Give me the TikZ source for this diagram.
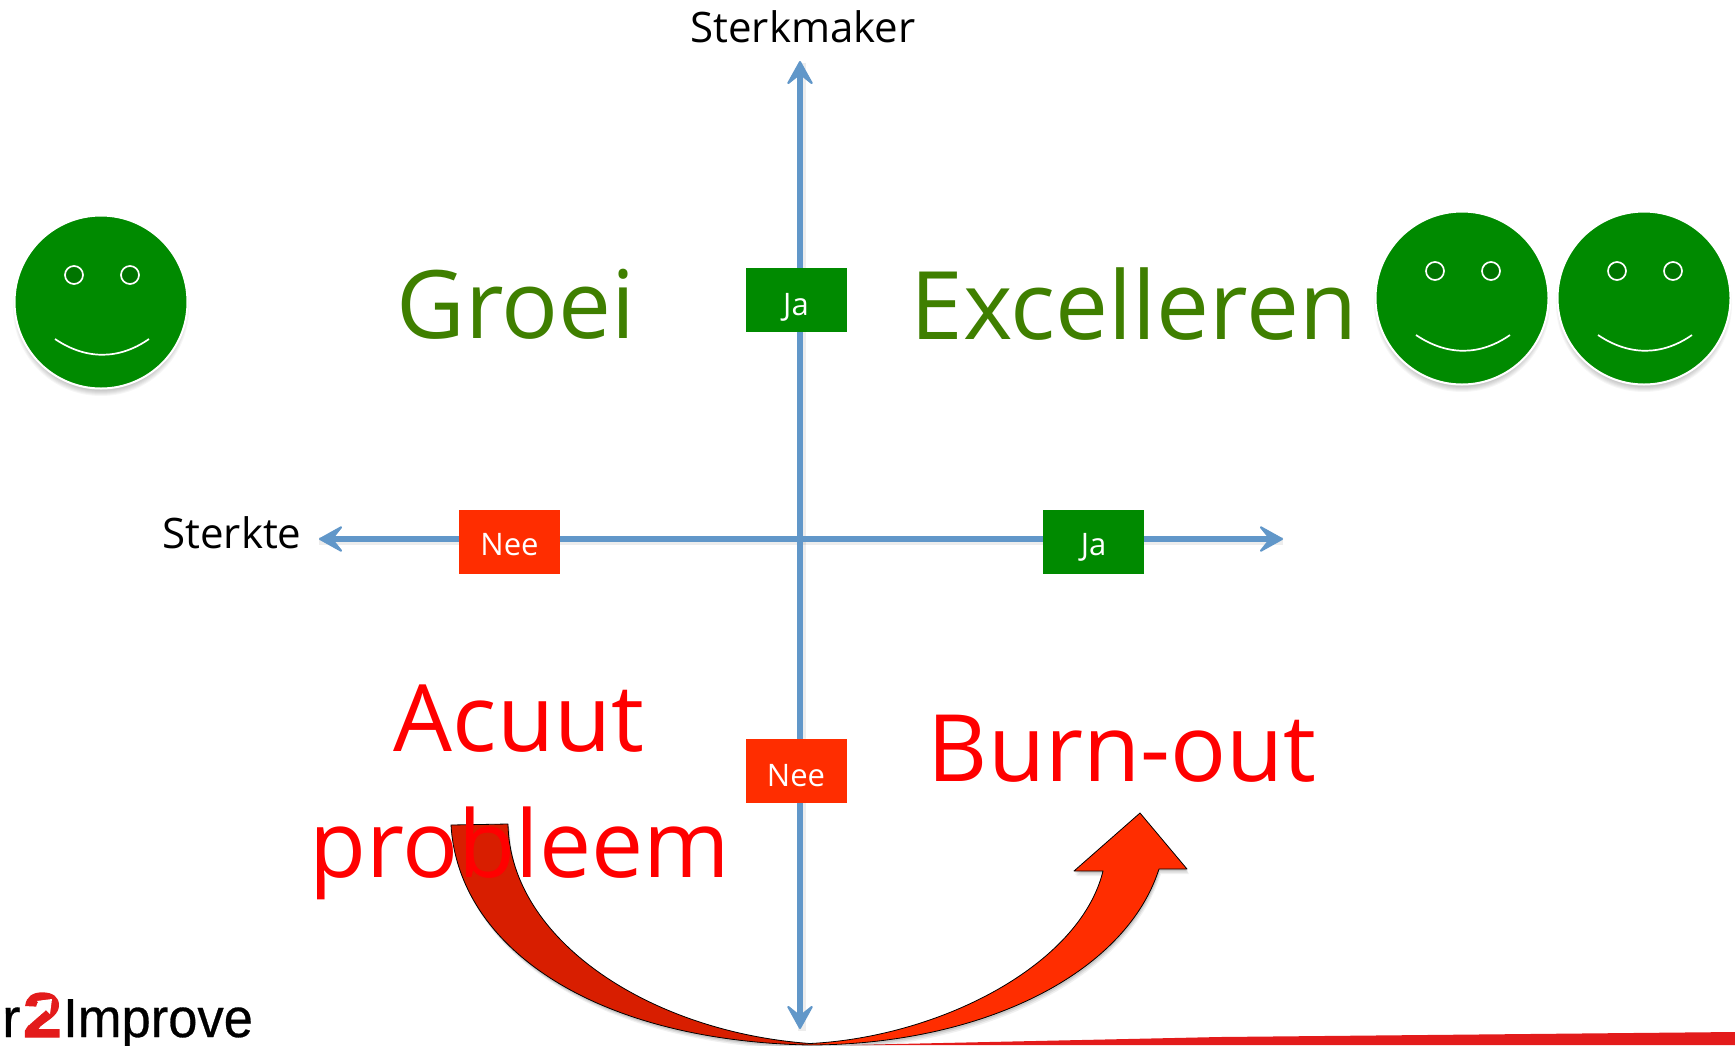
\documentclass[tikz,border=0pt]{standalone}
\usepackage{fontspec}
\usepackage{graphicx}
\setmainfont{Open Sans}
\newfontfamily\logofont[FakeBold=0.5]{Liberation Sans}
\newfontfamily\logotwofont[FakeBold=2.2]{Liberation Sans Bold}
\usetikzlibrary{arrows.meta}
\definecolor{axisblue}{HTML}{6197C9}
\definecolor{boxgreen}{HTML}{008A00}
\definecolor{boxred}{HTML}{FF2D00}
\definecolor{wordgreen}{HTML}{3F7F00}
\definecolor{arrowdark}{HTML}{D81E00}
\definecolor{logored}{HTML}{E31B1B}
\tikzset{
  axisline/.style={draw=axisblue,line width=6pt,{Stealth[length=27pt,width=30pt,inset=12pt,line width=2pt,round]}-{Stealth[length=27pt,width=30pt,inset=12pt,line width=2pt,round]}},
  axisshade/.style={draw=black,opacity=0.07,line width=7.5pt},
  tagbox/.style={minimum width=101pt,minimum height=64pt,inner sep=0pt,text=white,font=\fontsize{31}{31}\selectfont,text depth=0pt},
  jabox/.style={tagbox,fill=boxgreen},
  neebox/.style={tagbox,fill=boxred},
  tagvert/.style={text height=30.8pt},
  taghoriz/.style={text height=27.6pt},
  bigword/.style={inner sep=0pt,font=\fontsize{93}{93}\selectfont},
  greenword/.style={inner sep=0pt,text=wordgreen,font=\fontsize{94.5}{94.5}\selectfont},
  axisword/.style={inner sep=0pt,font=\fontsize{42}{42}\selectfont},
  face/.style={circle,fill=boxgreen,draw=white,line width=2pt,minimum size=173pt,inner sep=0pt},
}
\newcommand{\smiley}[3]{%
  \foreach \i in {1,...,6}{\fill[black,opacity=0.035] (#1,#2+6) circle ({82+\i});}
  \node[face] (#3) at (#1,#2) {};
  \draw[white,line width=1.7pt,fill=boxgreen!85!black] (#1-27,#2-27) circle (9);
  \draw[white,line width=1.7pt,fill=boxgreen!85!black] (#1+29,#2-27) circle (9);
  \draw[white,line width=1.7pt] (#1-46,#2+37) .. controls (#1-15,#2+58) and (#1+18,#2+58) .. (#1+48,#2+37);
}
\begin{document}
\begin{tikzpicture}[x=1pt,y=-1pt]
\useasboundingbox (0,0) rectangle (1735,1045);
\clip (0,0) rectangle (1735,1045);
\fill[white] (0,0) rectangle (1735,1045);
% red base line
\fill[logored] (850,1045) -- (1220,1037) -- (1735,1032) -- (1735,1045) -- cycle;
% axes
\coordinate (top) at (800,61);
\coordinate (bottom) at (800,1029);
\coordinate (left) at (319,539);
\coordinate (right) at (1283,539);
\draw[axisshade] ([shift={(2,2)}]bottom) -- ([shift={(2,2)}]top);
\draw[axisshade] ([shift={(0,2)}]left) -- ([shift={(0,2)}]right);
\draw[axisline] (bottom) -- (top);
\draw[axisline] (left) -- (right);
% boxes
\node[jabox,tagvert] (jaV) at (796,300) {Ja};
\node[neebox,taghoriz] (neeH) at (509.5,542) {Nee};
\node[jabox,taghoriz] (jaH) at (1093.5,542) {Ja};
\node[neebox,tagvert] (neeV) at (796,771) {Nee};
% smileys
\smiley{101}{302}{faceA}
\smiley{1462}{298}{faceB}
\smiley{1644}{298}{faceC}
% curved arrow shadow
\foreach \s/\o in {2/0.10,3.5/0.08,5/0.06}{
\fill[black,opacity=\o,shift={(\s*0.4,\s)}]
  (451,825) .. controls (458,945) and (590,1040) .. (808,1045)
  .. controls (980,1045) and (1125,975) .. (1159,869) -- (1187,869) -- (1140,813) -- (1074,871) -- (1103,871)
  .. controls (1080,965) and (940,1037) .. (810,1043.5)
  .. controls (650,1032) and (510,940) .. (508,824) -- cycle;
}
% curved arrow
\fill[arrowdark]
  (451,825) .. controls (458,945) and (590,1040) .. (808,1045)
  -- (810,1043.5) .. controls (650,1032) and (510,940) .. (508,824) -- cycle;
\fill[boxred]
  (808,1045) .. controls (980,1045) and (1125,975) .. (1159,869) -- (1187,869) -- (1140,813) -- (1074,871) -- (1103,871)
  .. controls (1080,965) and (940,1037) .. (810,1043.5) -- cycle;
\draw[black,line width=0.8pt,line join=round]
  (451,825) .. controls (458,945) and (590,1040) .. (808,1045)
  .. controls (980,1045) and (1125,975) .. (1159,869) -- (1187,869) -- (1140,813) -- (1074,871) -- (1103,871)
  .. controls (1080,965) and (940,1037) .. (810,1043.5)
  .. controls (650,1032) and (510,940) .. (508,824) -- cycle;
% words
\node[greenword] (groei) at (516,304) {Groei};
\node[greenword] (excel) at (1134,304) {Excelleren};
\node[bigword,text=red] (acuut) at (519,719) {Acuut};
\node[bigword,text=red] (prob) at (520,853) {probleem};
\node[bigword,text=red] (burn) at (1122,749) {Burn-out};
\node[axisword] (sterkte) at (232,533) {Sterkte};
\node[axisword] (sterkmaker) at (803,27) {Sterkmaker};
% logo
\node[anchor=base west,inner sep=0pt,font=\logofont\fontsize{55}{55}\selectfont] (logoR) at (2,1037) {r};
\node[anchor=base west,inner sep=0pt,font=\logotwofont\fontsize{63}{63}\selectfont,text=logored] (logoTwo) at (23,1037) {\scalebox{1.1}[1]{2}};
\node[anchor=base west,inner sep=0pt,font=\logofont\fontsize{55}{55}\selectfont] (logoRest) at (63,1037) {\scalebox{0.955}[1]{Improve}};
\fill[white] (24,1020) -- (41,1006) -- (37,1001) -- (52,999) -- (50,1014) -- (46,1010) -- (29,1025) -- cycle;
\end{tikzpicture}
\end{document}
